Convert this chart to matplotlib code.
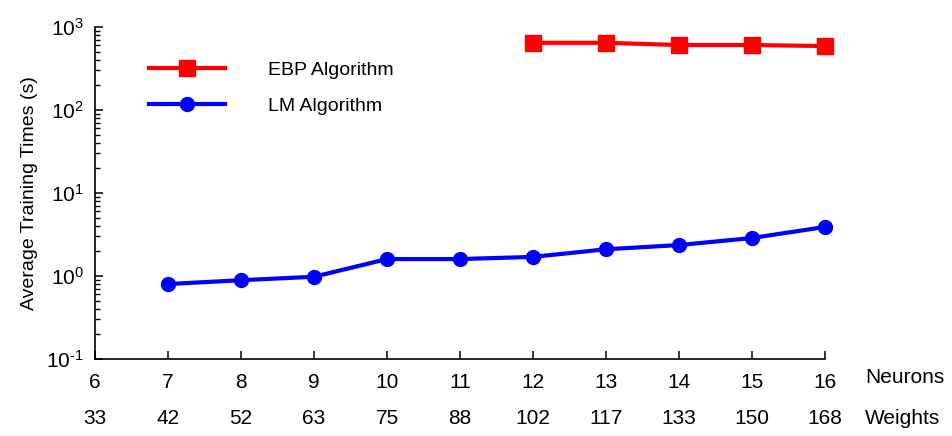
import matplotlib
matplotlib.use("Agg")
import matplotlib.pyplot as plt
from matplotlib.ticker import LogLocator, NullFormatter, FixedLocator, FuncFormatter
import numpy as np

plt.rcParams['font.family'] = ['Liberation Sans', 'DejaVu Sans']
plt.rcParams['mathtext.fontset'] = 'custom'
plt.rcParams['mathtext.rm'] = 'Liberation Sans'
plt.rcParams['mathtext.it'] = 'Liberation Sans'
plt.rcParams['axes.unicode_minus'] = False

# ---- data ----
neurons = [6, 7, 8, 9, 10, 11, 12, 13, 14, 15, 16]
weights = [33, 42, 52, 63, 75, 88, 102, 117, 133, 150, 168]

lm_neurons = [7, 8, 9, 10, 11, 12, 13, 14, 15, 16]
lm_times = [0.80, 0.89, 0.98, 1.6, 1.6, 1.7, 2.1, 2.36, 2.87, 3.9]

ebp_neurons = [12, 13, 14, 15, 16]
ebp_times = [646, 646, 607, 607, 590]


def decade_label(v, pos):
    e = int(round(np.log10(v)))
    s = str(e).replace('-', '\u2010')
    return r'$\mathregular{10^{%s}}$' % s


fig = plt.figure(figsize=(9.53, 4.36), dpi=100)
ax = fig.add_axes([0.0997, 0.1766, 0.766, 0.7614])

ax.plot(ebp_neurons, ebp_times, color='#ff0000', lw=3, marker='s', ms=12,
        label='EBP Algorithm', clip_on=False)
ax.plot(lm_neurons, lm_times, color='#0000ff', lw=3, marker='o', ms=10,
        label='LM Algorithm', clip_on=False)

ax.set_yscale('log')
ax.set_ylim(0.1, 1000)
ax.set_xlim(6, 16)

ax.spines['top'].set_visible(False)
ax.spines['right'].set_visible(False)
for s in ('left', 'bottom'):
    ax.spines[s].set_linewidth(1.2)

ax.yaxis.set_major_locator(LogLocator(base=10, numticks=10))
ax.yaxis.set_major_formatter(FuncFormatter(decade_label))
ax.yaxis.set_minor_locator(LogLocator(base=10, subs=range(2, 10), numticks=10))
ax.yaxis.set_minor_formatter(NullFormatter())
ax.tick_params(axis='y', which='major', direction='in', length=6, width=1.1,
               labelsize=15, pad=8)
ax.tick_params(axis='y', which='minor', direction='in', length=3.5, width=1)

ax.xaxis.set_major_locator(FixedLocator(neurons))
ax.set_xticklabels([str(n) for n in neurons])
ax.tick_params(axis='x', direction='in', length=6, width=1.1, labelsize=15,
               pad=10)

for n, w in zip(neurons, weights):
    ax.text(n, -0.18, str(w), transform=ax.get_xaxis_transform(),
            ha='center', va='center', fontsize=15)
ax.text(16.55, -0.055, 'Neurons', transform=ax.get_xaxis_transform(),
        ha='left', va='center', fontsize=15)
ax.text(16.55, -0.18, 'Weights', transform=ax.get_xaxis_transform(),
        ha='left', va='center', fontsize=15)

ax.set_ylabel('Average Training Times (s)', fontsize=14, labelpad=6)

ax.legend(loc='upper left', bbox_to_anchor=(0.05, 0.95), frameon=False,
          fontsize=14, handlelength=3.9, handletextpad=2.2, labelspacing=0.95)

fig.savefig('out.png', dpi=100)
